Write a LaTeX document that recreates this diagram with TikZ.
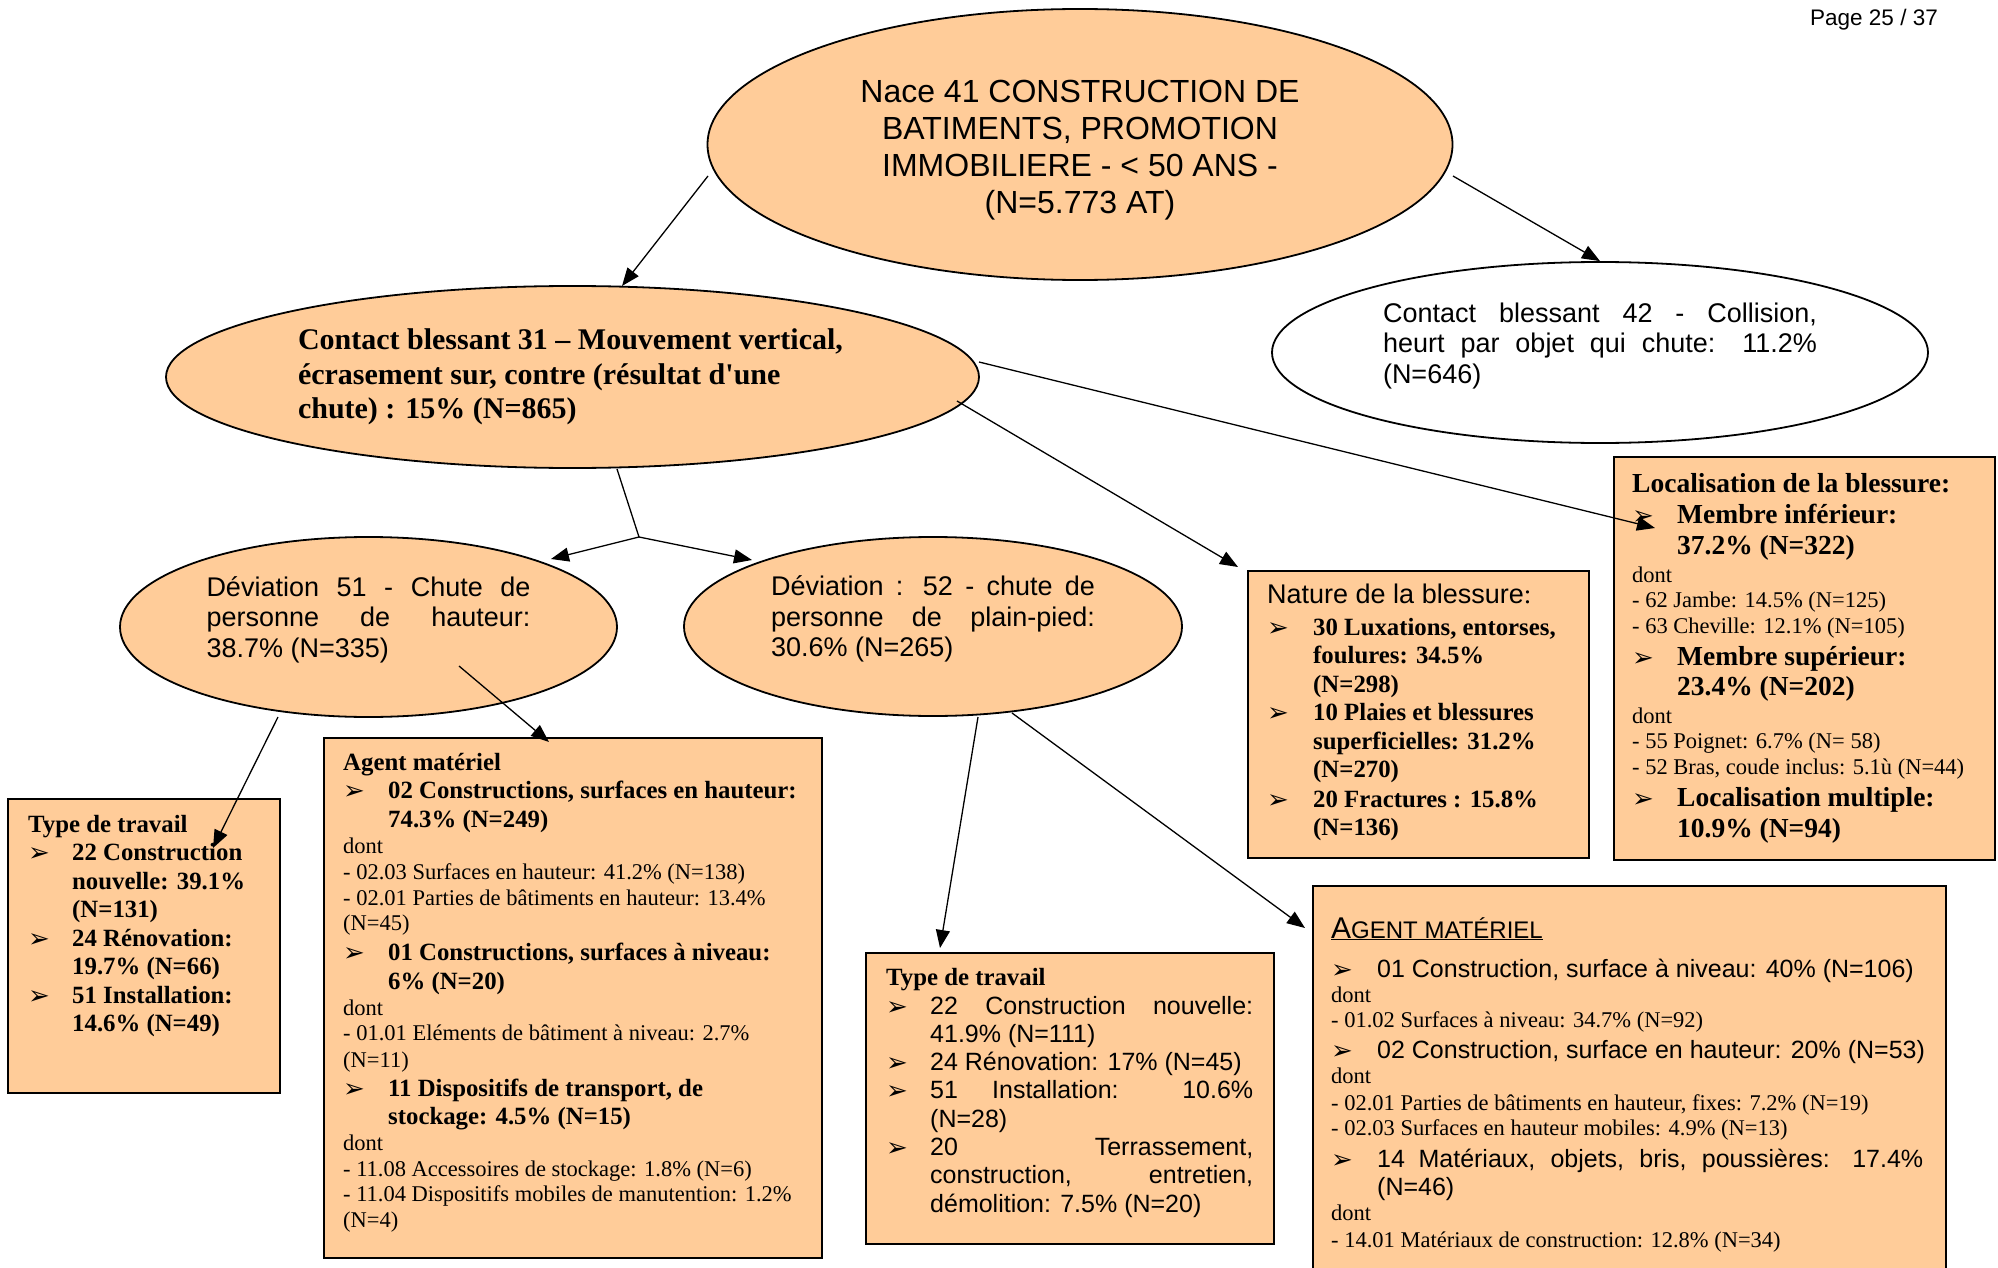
\documentclass[tikz,border=0pt]{standalone}
\usepackage{fontspec}
\setmainfont{Liberation Serif}
\newfontfamily\arial{Liberation Sans}
\newfontfamily\djv{DejaVu Sans}
\usetikzlibrary{arrows.meta,calc,shapes.geometric}
\definecolor{peach}{HTML}{FFCC99}

% fonts used inside the boxes
\newlength\bind
\newcommand\nsp{\spaceskip=0pt\xspaceskip=0pt\relax}
\newcommand\fTb{\rmfamily\bfseries\fontsize{24.8}{24.8}\selectfont}
\newcommand\fTB{\rmfamily\bfseries\fontsize{27.5}{27.5}\selectfont}
\newcommand\fTs{\rmfamily\mdseries\fontsize{22.5}{22.5}\selectfont}
\newcommand\fA{\arial\mdseries\fontsize{25}{25}\selectfont}
% one text line: distance from previous baseline, font, content
\newcommand\Ln[3]{{#2\nsp\setlength\baselineskip{#1pt}\setlength\lineskiplimit{-60pt}\noindent\mbox{#3}\par}}
\newcommand\bul{\makebox[\bind][l]{\djv\fontsize{26}{26}\selectfont\raisebox{-1pt}{➢}}}
\newcommand\hin{\hspace*{\bind}}
\newcommand\jst[1]{\makebox[\linewidth][s]{\nsp#1}}
\newcommand\bjst[1]{\makebox[\dimexpr\linewidth-\bind\relax][s]{\nsp#1}}

\begin{document}
\begin{tikzpicture}[x=1pt,y=-1pt,
  ell/.style={ellipse, draw=black, line width=1.8pt, fill=peach, inner sep=0pt},
  box/.style={rectangle, draw=black, line width=2pt, fill=peach, inner sep=0pt, anchor=north west},
  txt/.style={anchor=base west, inner sep=0pt, align=left},
  arr/.style={line width=1.3pt, -{Triangle[length=18pt,width=14pt]}},
  link/.style={line width=1.3pt}]
\path[use as bounding box] (0,0) rectangle (1998,1268);
\clip (0,0) rectangle (1998,1268);
\fill[white] (0,0) rectangle (1998,1268);

\node[anchor=base east, inner sep=0pt, font=\arial\fontsize{22.5}{22.5}\selectfont] (page) at (1938,26) {\nsp Page 25 / 37};

% ---------- ellipses ----------
\node[ell, minimum width=745pt, minimum height=271pt, text width=470pt, align=center,
      font=\arial\fontsize{32}{37}\selectfont] (root) at (1080,144.5)
  {\nsp\rule{0pt}{34pt}\mbox{Nace 41 CONSTRUCTION DE}\\ \mbox{BATIMENTS, PROMOTION}\\ \mbox{IMMOBILIERE - < 50 ANS -}\\ \mbox{(N=5.773 AT)}};

\node[ell, minimum width=813pt, minimum height=182pt, text width=549pt, align=left,
      font=\rmfamily\bfseries\fontsize{30}{34.5}\selectfont] (c31) at (572.5,377)
  {\nsp\mbox{Contact blessant 31 – Mouvement vertical,}\\ \mbox{écrasement sur, contre (résultat d\textquotesingle une}\\ \mbox{chute) : 15\% (N=865)}};

\node[ell, fill=white, minimum width=656pt, minimum height=181pt, text width=434pt, align=left,
      font=\arial\fontsize{27}{30.5}\selectfont] (c42) at (1600,352.5)
  {\nsp\jst{Contact blessant 42 - Collision,}\\ \jst{heurt par objet qui chute: 11.2\%}\\ \mbox{(N=646)}\rule[-19pt]{0pt}{19pt}};

\node[ell, minimum width=497pt, minimum height=180pt, text width=324pt, align=left,
      font=\arial\fontsize{27}{30.5}\selectfont] (dev51) at (368.5,627)
  {\nsp\jst{Déviation 51 - Chute de}\\ \jst{personne de hauteur:}\\ \mbox{38.7\% (N=335)}\rule[-20pt]{0pt}{20pt}};

\node[ell, minimum width=498pt, minimum height=179pt, text width=324pt, align=left,
      font=\arial\fontsize{27}{30.5}\selectfont] (dev52) at (933,626.5)
  {\nsp\jst{Déviation : 52 - chute de}\\ \jst{personne de plain-pied:}\\ \mbox{30.6\% (N=265)}\rule[-20pt]{0pt}{20pt}};

% ---------- boxes ----------
\node[box, minimum width=272pt, minimum height=294pt] (type1) at (7,798) {};
\node[box, minimum width=498pt, minimum height=520pt] (agent1) at (323,737) {};
\node[box, minimum width=341pt, minimum height=287pt] (nature) at (1247,570) {};
\node[box, minimum width=381pt, minimum height=403pt] (loc) at (1613,456) {};
\node[box, minimum width=408pt, minimum height=291pt] (type2) at (865,952) {};
\node[box, minimum width=633pt, minimum height=420pt] (agent2) at (1312,885) {};

\node[txt, text width=245pt] (type1txt) at (28,832) {\setlength\bind{44pt}%
\Ln{0}\fTb{Type de travail}
\Ln{28.5}\fTb{\bul 22 Construction}
\Ln{28.5}\fTb{\hin nouvelle: 39.1\%}
\Ln{28.5}\fTb{\hin (N=131)}
\Ln{28.5}\fTb{\bul 24 Rénovation:}
\Ln{28.5}\fTb{\hin 19.7\% (N=66)}
\Ln{28.5}\fTb{\bul 51 Installation:}
\Ln{28.5}\fTb{\hin 14.6\% (N=49)}};

\node[txt, text width=470pt] (agent1txt) at (343,770.5) {\setlength\bind{45pt}%
\Ln{0}\fTb{Agent matériel}
\Ln{28.1}\fTb{\bul 02 Constructions, surfaces en hauteur:}
\Ln{28.4}\fTb{\hin 74.3\% (N=249)}
\Ln{26.5}\fTs{dont}
\Ln{25.5}\fTs{- 02.03 Surfaces en hauteur: 41.2\% (N=138)}
\Ln{26.7}\fTs{- 02.01 Parties de bâtiments en hauteur: 13.4\%}
\Ln{25.1}\fTs{(N=45)}
\Ln{29.2}\fTb{\bul 01 Constructions, surfaces à niveau:}
\Ln{29}\fTb{\hin 6\% (N=20)}
\Ln{26.9}\fTs{dont}
\Ln{24.7}\fTs{- 01.01 Eléments de bâtiment à niveau: 2.7\%}
\Ln{26.7}\fTs{(N=11)}
\Ln{29.2}\fTb{\bul 11 Dispositifs de transport, de}
\Ln{28.1}\fTb{\hin stockage: 4.5\% (N=15)}
\Ln{25.8}\fTs{dont}
\Ln{25.6}\fTs{- 11.08 Accessoires de stockage: 1.8\% (N=6)}
\Ln{25.9}\fTs{- 11.04 Dispositifs mobiles de manutention: 1.2\%}
\Ln{25.7}\fTs{(N=4)}};

\node[txt, text width=310pt] (naturetxt) at (1267,603) {\setlength\bind{46pt}%
\Ln{0}{\arial\fontsize{27}{27}\selectfont}{Nature de la blessure\rmfamily:}
\Ln{32}\fTb{\bul 30 Luxations, entorses,}
\Ln{28.5}\fTb{\hin foulures: 34.5\%}
\Ln{28.5}\fTb{\hin (N=298)}
\Ln{28.5}\fTb{\bul 10 Plaies et blessures}
\Ln{28.5}\fTb{\hin superficielles: 31.2\%}
\Ln{28.5}\fTb{\hin (N=270)}
\Ln{29.5}\fTb{\bul 20 Fractures : 15.8\%}
\Ln{28.5}\fTb{\hin (N=136)}};

\node[txt, text width=350pt] (loctxt) at (1632,492) {\setlength\bind{45pt}%
\Ln{0}\fTB{Localisation de la blessure:}
\Ln{31}\fTB{\bul Membre inférieur:}
\Ln{31}\fTB{\hin 37.2\% (N=322)}
\Ln{28}\fTs{dont}
\Ln{25.5}\fTs{- 62 Jambe: 14.5\% (N=125)}
\Ln{26}\fTs{- 63 Cheville: 12.1\% (N=105)}
\Ln{32}\fTB{\bul Membre supérieur:}
\Ln{30}\fTB{\hin 23.4\% (N=202)}
\Ln{28}\fTs{dont}
\Ln{25}\fTs{- 55 Poignet: 6.7\% (N= 58)}
\Ln{26}\fTs{- 52 Bras, coude inclus: 5.1ù (N=44)}
\Ln{32}\fTB{\bul Localisation multiple:}
\Ln{31}\fTB{\hin 10.9\% (N=94)}};

\node[txt, text width=367pt] (type2txt) at (886,985) {\setlength\bind{44pt}%
\Ln{0}\fTb{Type de travail}
\Ln{29}\fA{\bul\bjst{22 Construction nouvelle:}}
\Ln{28}\fA{\hin 41.9\% (N=111)}
\Ln{28}\fA{\bul 24 Rénovation: 17\% (N=45)}
\Ln{28}\fA{\bul\bjst{51 Installation: 10.6\%}}
\Ln{29}\fA{\hin (N=28)}
\Ln{28}\fA{\bul\bjst{20 Terrassement,}}
\Ln{28}\fA{\hin\bjst{construction, entretien,}}
\Ln{29}\fA{\hin démolition: 7.5\% (N=20)}};

\node[txt, text width=592pt] (agent2txt) at (1331,938) {\setlength\bind{46pt}%
\Ln{0}{\arial}{\underline{{\fontsize{30}{30}\selectfont A}{\fontsize{24}{24}\selectfont GENT MATÉRIEL}}}
\Ln{39}\fA{\bul 01 Construction, surface à niveau: 40\% (N=106)}
\Ln{25}\fTs{dont}
\Ln{25}\fTs{- 01.02 Surfaces à niveau: 34.7\% (N=92)}
\Ln{31}\fA{\bul 02 Construction, surface en hauteur: 20\% (N=53)}
\Ln{25}\fTs{dont}
\Ln{27}\fTs{- 02.01 Parties de bâtiments en hauteur, fixes: 7.2\% (N=19)}
\Ln{25}\fTs{- 02.03 Surfaces en hauteur mobiles: 4.9\% (N=13)}
\Ln{32}\fA{\bul\bjst{14 Matériaux, objets, bris, poussières: 17.4\%}}
\Ln{28}\fA{\hin (N=46)}
\Ln{25}\fTs{dont}
\Ln{27}\fTs{- 14.01 Matériaux de construction: 12.8\% (N=34)}};

% ---------- connectors ----------
\coordinate (fork) at (639,537);
\draw[arr] ($(root.center)+(-372,31.5)$) -- ($(c31.center)+(49.5,-91)$);
\draw[arr] ($(root.center)+(373,31.5)$) -- (c42.north);
\draw[arr] ($(c31.center)+(406.5,-15)$) -- ($(loc.north west)+(42,72)$);
\draw[arr] ($(c31.center)+(384.5,24)$) -- ($(nature.north west)+(-9,-3)$);
\draw[link] ($(c31.center)+(44.5,92)$) -- (fork);
\draw[arr] (fork) -- ($(dev51.center)+(182.5,-68)$);
\draw[arr] (fork) -- ($(dev52.center)+(-181,-66.5)$);
\draw[arr] ($(dev51.center)+(-90.5,90)$) -- ($(type1.north west)+(206,50)$);
\draw[arr] ($(dev51.center)+(90.5,39)$) -- ($(agent1.north west)+(226,5)$);
\draw[arr] ($(dev52.center)+(45,90.5)$) -- ($(type2.north west)+(75,-4)$);
\draw[arr] ($(dev52.center)+(79,86.5)$) -- ($(agent2.north west)+(-7,43)$);
\end{tikzpicture}
\end{document}
